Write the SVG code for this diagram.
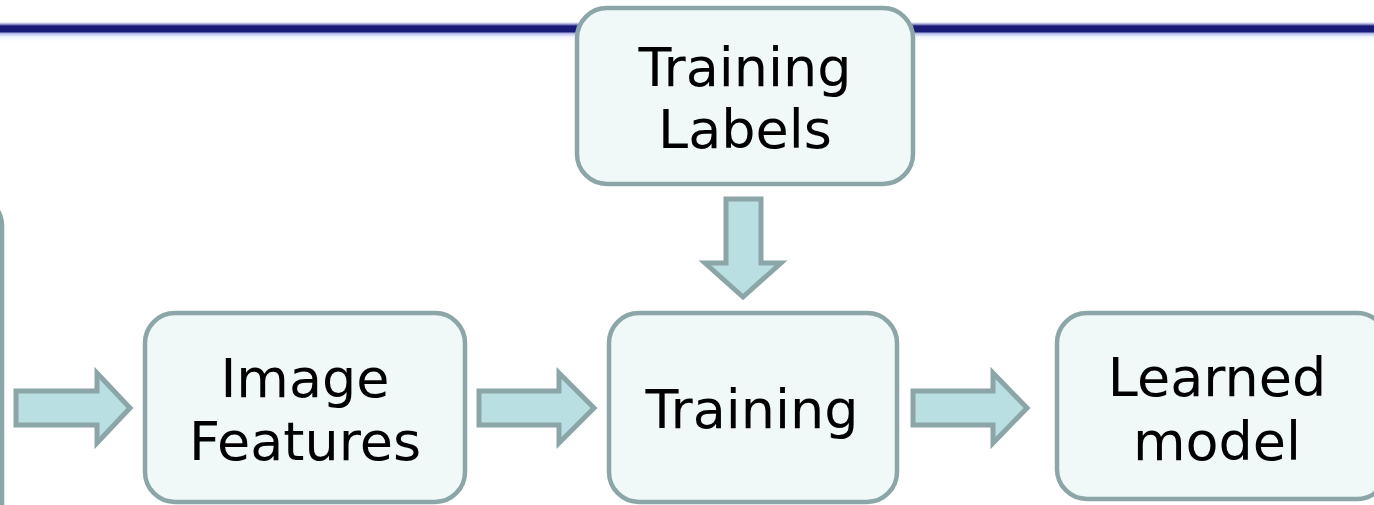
<svg xmlns="http://www.w3.org/2000/svg" width="1374" height="505" viewBox="0 0 1374 505">
  <defs>
    <linearGradient id="rule" x1="0" y1="0" x2="0" y2="1">
      <stop offset="0" stop-color="#ffffff"/>
      <stop offset="0.1" stop-color="#a8a8d8"/>
      <stop offset="0.2" stop-color="#1a1a78"/>
      <stop offset="0.48" stop-color="#1a1a78"/>
      <stop offset="0.58" stop-color="#b8c0ec"/>
      <stop offset="0.75" stop-color="#f4f6fd"/>
      <stop offset="1" stop-color="#ffffff"/>
    </linearGradient>
    <style>
      .box { fill: #f0f8f8; stroke: #8ca6a8; stroke-width: 4.5; }
      .arrow { fill: #b9dfe2; stroke: #8ca6a8; stroke-width: 5; stroke-linejoin: miter; }
      .label { font-family: "DejaVu Sans", Verdana, sans-serif; font-size: 54px; fill: #000000; text-anchor: middle; }
    </style>
  </defs>
  <rect width="1374" height="505" fill="#ffffff"/>
  <!-- header rule -->
  <rect x="0" y="22" width="1374" height="20" fill="url(#rule)"/>

  <!-- partially visible node at left edge -->
  <g id="node-source">
    <rect class="box" x="-330" y="196" width="332" height="340" rx="30"/>
  </g>

  <g id="node-training-labels">
    <rect class="box" x="577" y="8" width="336" height="176" rx="30"/>
    <text class="label" x="745" y="86">Training</text>
    <text class="label" x="745" y="148">Labels</text>
  </g>

  <g id="node-image-features">
    <rect class="box" x="145" y="313" width="320" height="189" rx="30"/>
    <text class="label" x="305" y="397">Image</text>
    <text class="label" x="305" y="460">Features</text>
  </g>

  <g id="node-training">
    <rect class="box" x="609" y="313" width="288" height="189" rx="30"/>
    <text class="label" x="752" y="428">Training</text>
  </g>

  <g id="node-learned-model">
    <rect class="box" x="1057" y="313" width="330" height="186" rx="30"/>
    <text class="label" x="1217" y="396">Learned</text>
    <text class="label" x="1217" y="460">model</text>
  </g>

  <g id="connectors">
    <polygon class="arrow" points="16,391 97,391 97,373 130,408 97,443 97,425 16,425"/>
    <polygon class="arrow" points="479,391 559,391 559,373 594,408 559,443 559,425 479,425"/>
    <polygon class="arrow" points="913,391 993,391 993,373 1027,408 993,443 993,425 913,425"/>
    <polygon class="arrow" points="726,199 761,199 761,263 781,263 743,297 705,263 726,263"/>
  </g>
</svg>
